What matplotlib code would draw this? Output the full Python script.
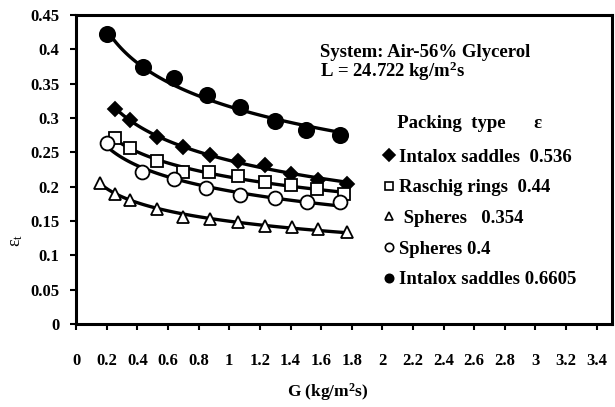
import numpy as np
import matplotlib
matplotlib.use("Agg")
import matplotlib.pyplot as plt
from matplotlib.lines import Line2D

plt.rcParams['font.family'] = ['Liberation Serif', 'DejaVu Serif']
plt.rcParams['font.weight'] = 'bold'
plt.rcParams['mathtext.fontset'] = 'custom'
plt.rcParams['mathtext.rm'] = 'Liberation Serif:bold'
plt.rcParams['mathtext.it'] = 'Liberation Serif:bold'

# Intalox saddles, eps = 0.536 (diamonds)
g_int536 = [0.255, 0.353, 0.527, 0.70, 0.876, 1.06, 1.23, 1.40, 1.58, 1.77]
e_int536 = [0.313, 0.297, 0.273, 0.258, 0.246, 0.237, 0.232, 0.219, 0.210, 0.204]
# Raschig rings, eps = 0.44 (squares)
g_rasch = [0.255, 0.353, 0.527, 0.70, 0.87, 1.06, 1.23, 1.40, 1.57, 1.75]
e_rasch = [0.271, 0.256, 0.237, 0.222, 0.221, 0.215, 0.207, 0.202, 0.197, 0.190]
# Spheres, eps = 0.354 (triangles)
g_sph354 = [0.157, 0.255, 0.353, 0.527, 0.70, 0.876, 1.06, 1.23, 1.41, 1.58, 1.77]
e_sph354 = [0.206, 0.190, 0.181, 0.167, 0.156, 0.153, 0.149, 0.142, 0.141, 0.138, 0.134]
# Spheres, eps = 0.4 (open circles)
g_sph4 = [0.20, 0.43, 0.636, 0.85, 1.07, 1.30, 1.51, 1.72]
e_sph4 = [0.264, 0.222, 0.211, 0.198, 0.188, 0.183, 0.178, 0.178]
# Intalox saddles, eps = 0.6605 (filled circles)
g_int66 = [0.20, 0.433, 0.64, 0.854, 1.07, 1.30, 1.50, 1.72]
e_int66 = [0.422, 0.374, 0.358, 0.333, 0.316, 0.295, 0.283, 0.276]

series = [
    (g_int536, e_int536, dict(marker='D', mfc='black', ms=7), 'Intalox saddles  0.536'),
    (g_rasch, e_rasch, dict(marker='s', mfc='white', ms=9), 'Raschig rings  0.44'),
    (g_sph354, e_sph354, dict(marker='^', mfc='white', ms=9), ' Spheres   0.354'),
    (g_sph4, e_sph4, dict(marker='o', mfc='white', ms=10), 'Spheres 0.4'),
    (g_int66, e_int66, dict(marker='o', mfc='black', ms=11), 'Intalox saddles 0.6605'),
]

fig = plt.figure(figsize=(6.15, 4.07), dpi=100)
ax = fig.add_axes([0.124, 0.204, 0.871, 0.759])

handles = []
for g, e, style, label in series:
    g = np.array(g)
    e = np.array(e)
    # logarithmic trend line through the points
    b, a = np.polyfit(np.log(g), e, 1)
    gg = np.linspace(g.min(), g.max(), 100)
    ax.plot(gg, a + b * np.log(gg), color='black', lw=2.4, zorder=2)
    ax.plot(g, e, linestyle='none', mec='black', mew=1.3, zorder=3, **style)
    handles.append(Line2D([], [], linestyle='none', marker=style['marker'],
                          mfc=style['mfc'], mec='black', mew=1.2, ms=6))

ax.set_xlim(0, 3.5)
ax.set_ylim(0, 0.45)
ax.set_xticks(np.arange(0, 3.41, 0.2))
ax.set_xticklabels(['0', '0.2', '0.4', '0.6', '0.8', '1', '1.2', '1.4', '1.6', '1.8',
                    '2', '2.2', '2.4', '2.6', '2.8', '3', '3.2', '3.4'])
ax.set_yticks(np.arange(0, 0.451, 0.05))
ax.set_yticklabels(['0', '0.05', '0.1', '0.15', '0.2', '0.25', '0.3', '0.35', '0.4', '0.45'])
ax.tick_params(axis='x', direction='out', length=4, width=1.5, pad=17, labelsize=12)
ax.tick_params(axis='y', direction='out', length=4, width=1.5, pad=8, labelsize=12)
for lab in ax.get_xticklabels() + ax.get_yticklabels():
    lab.set_fontweight('bold')
for sp in ax.spines.values():
    sp.set_linewidth(2.2)

ax.set_xlabel('G (kg/m$^{2}$s)', fontsize=12.5, fontweight='bold')
ax.xaxis.set_label_coords(0.47, -0.185)
ax.set_ylabel(r'$\mathregular{\varepsilon_t}$', fontsize=13)
ax.yaxis.set_label_coords(-0.095, 0.27)

ax.text(0.455, 0.905, 'System: Air-56% Glycerol\nL = 24.722 kg/m$^{2}$s',
        transform=ax.transAxes, fontsize=13.5, fontweight='bold',
        va='top', ha='left', linespacing=0.9)

leg = ax.legend(handles, [s[3] for s in series], loc='upper left',
                bbox_to_anchor=(0.555, 0.707), frameon=False,
                prop={'weight': 'bold', 'size': 13.5},
                title='\u00a0\u00a0\u00a0Packing  type      \u03b5',
                title_fontproperties={'weight': 'bold', 'size': 13.5},
                handlelength=0.6, handletextpad=0.25, labelspacing=0.72, borderpad=0)
leg._legend_box.align = 'left'
leg._legend_box.sep = 12

fig.savefig('out.png', dpi=100)
